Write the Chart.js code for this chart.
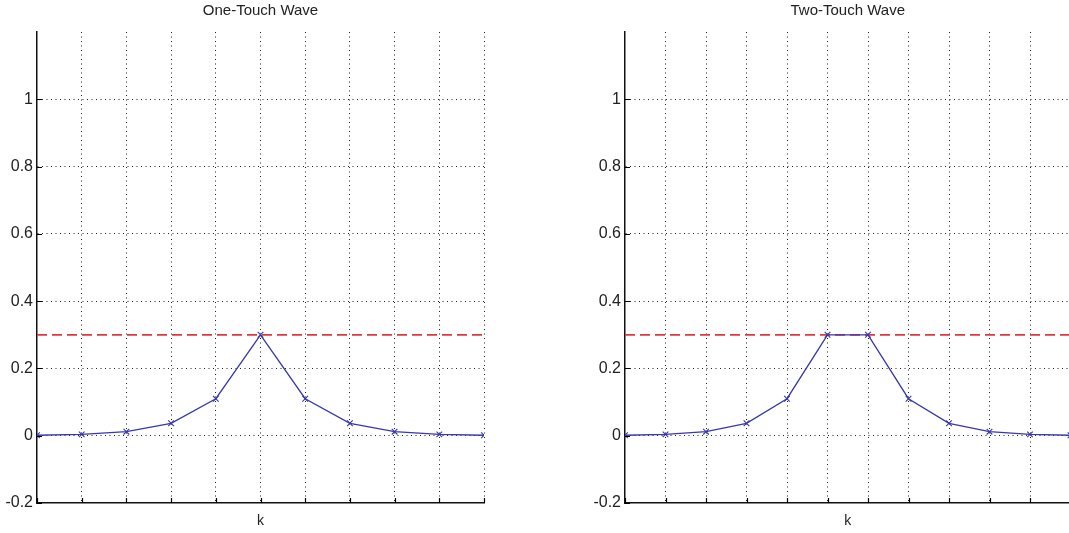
<!DOCTYPE html>
<html>
<head>
<meta charset="utf-8">
<script src="https://cdn.jsdelivr.net/npm/chart.js@4"></script>
<style>
  html, body { margin: 0; padding: 0; background: #fff; overflow: hidden; width: 1069px; height: 533px; }
  canvas { position: absolute; top: 0; }
  #c1 { left: 0; }
  #c2 { left: 588px; }
</style>
</head>
<body>
<canvas id="c1" width="534" height="533"></canvas>
<canvas id="c2" width="534" height="533"></canvas>
<script>
// ---- data ----
const kOne = [0, 1, 2, 3, 4, 5, 6, 7, 8, 9, 10];
const waveOne = [0.0014, 0.004, 0.012, 0.037, 0.11, 0.3, 0.11, 0.037, 0.012, 0.004, 0.0014];
const kTwo = [0, 1, 2, 3, 4, 5, 6, 7, 8, 9, 10, 11];
const waveTwo = [0.0014, 0.004, 0.012, 0.037, 0.11, 0.3, 0.3, 0.11, 0.037, 0.012, 0.004, 0.0014];
const thresholdLevel = 0.3;
const titles = ['One-Touch Wave', 'Two-Touch Wave'];
const xLabel = 'k';
const yTickValues = [-0.2, 0, 0.2, 0.4, 0.6, 0.8, 1, 1.2];

const FONT = "'Liberation Sans', Arial, sans-serif";

const inwardTicks = {
  id: 'inwardTicks',
  afterDraw(chart) {
    const { ctx, chartArea } = chart;
    const xs = chart.scales.x, ys = chart.scales.y;
    ctx.save();
    ctx.strokeStyle = '#000';
    ctx.lineWidth = 1.2;
    ctx.beginPath();
    xs.ticks.forEach(t => {
      const px = Math.round(xs.getPixelForValue(t.value)) + 0.5;
      ctx.moveTo(px, chartArea.bottom);
      ctx.lineTo(px, chartArea.bottom - 5);
    });
    ys.ticks.forEach(t => {
      if (Math.abs(t.value - 1.2) < 1e-6) return;
      const py = Math.round(ys.getPixelForValue(t.value)) + 0.5;
      ctx.moveTo(chartArea.left, py);
      ctx.lineTo(chartArea.left + 5, py);
    });
    ctx.stroke();
    ctx.restore();
  }
};

function makeChart(id, ks, vals, title, rightPad) {
  const xMax = ks[ks.length - 1];
  new Chart(document.getElementById(id), {
    type: 'line',
    data: {
      datasets: [
        {
          data: [{ x: ks[0], y: thresholdLevel }, { x: xMax, y: thresholdLevel }],
          borderColor: '#dc3a40',
          borderWidth: 1.7,
          borderDash: [10, 5],
          pointRadius: 0,
          fill: false,
          order: 1
        },
        {
          data: ks.map((k, i) => ({ x: k, y: vals[i] })),
          borderColor: '#3838b0',
          borderWidth: 1.3,
          pointStyle: 'crossRot',
          pointRadius: 4,
          pointBorderColor: '#3838b0',
          pointBorderWidth: 1.1,
          fill: false,
          tension: 0,
          order: 0
        }
      ]
    },
    options: {
      responsive: false,
      animation: false,
      events: [],
      layout: { padding: { left: 0, right: rightPad, top: 0, bottom: 0 } },
      plugins: {
        legend: { display: false },
        tooltip: { enabled: false },
        title: {
          display: true,
          text: title,
          fullSize: false,
          color: '#222',
          font: { family: FONT, size: 15, weight: 'normal' },
          padding: { top: 2, bottom: 12 }
        }
      },
      scales: {
        x: {
          type: 'linear',
          min: 0,
          max: xMax,
          ticks: { display: false, stepSize: 1 },
          grid: {
            drawTicks: false,
            color: ctx => (ctx.tick && ctx.tick.value === 0) ? 'rgba(0,0,0,0)' : '#222',
            lineWidth: 1
          },
          border: { display: true, color: '#111', width: 1.5, dash: [1, 3.5] },
          title: {
            display: true,
            text: xLabel,
            color: '#222',
            font: { family: FONT, size: 14, weight: 'normal' },
            padding: { top: 0, bottom: 3 }
          },
          afterFit: s => { s.height = 30; }
        },
        y: {
          min: -0.2,
          max: 1.2,
          afterBuildTicks: s => { s.ticks = yTickValues.map(v => ({ value: v })); },
          ticks: {
            color: '#222',
            font: { family: FONT, size: 16 },
            padding: 4,
            callback: v => Math.abs(v - 1.2) < 1e-6 ? '' : String(+v.toFixed(1))
          },
          grid: {
            drawTicks: false,
            color: ctx => {
              if (!ctx.tick) return '#222';
              const v = ctx.tick.value;
              return (Math.abs(v + 0.2) < 1e-6 || Math.abs(v - 1.2) < 1e-6) ? 'rgba(0,0,0,0)' : '#222';
            },
            lineWidth: 1
          },
          border: { display: true, color: '#111', width: 1.5, dash: [1, 3.5] },
          afterFit: s => { s.width = 37; }
        }
      }
    },
    plugins: [inwardTicks]
  });
}

makeChart('c1', kOne, waveOne, titles[0], 50);
makeChart('c2', kTwo, waveTwo, titles[1], 51.5);
</script>
</body>
</html>
